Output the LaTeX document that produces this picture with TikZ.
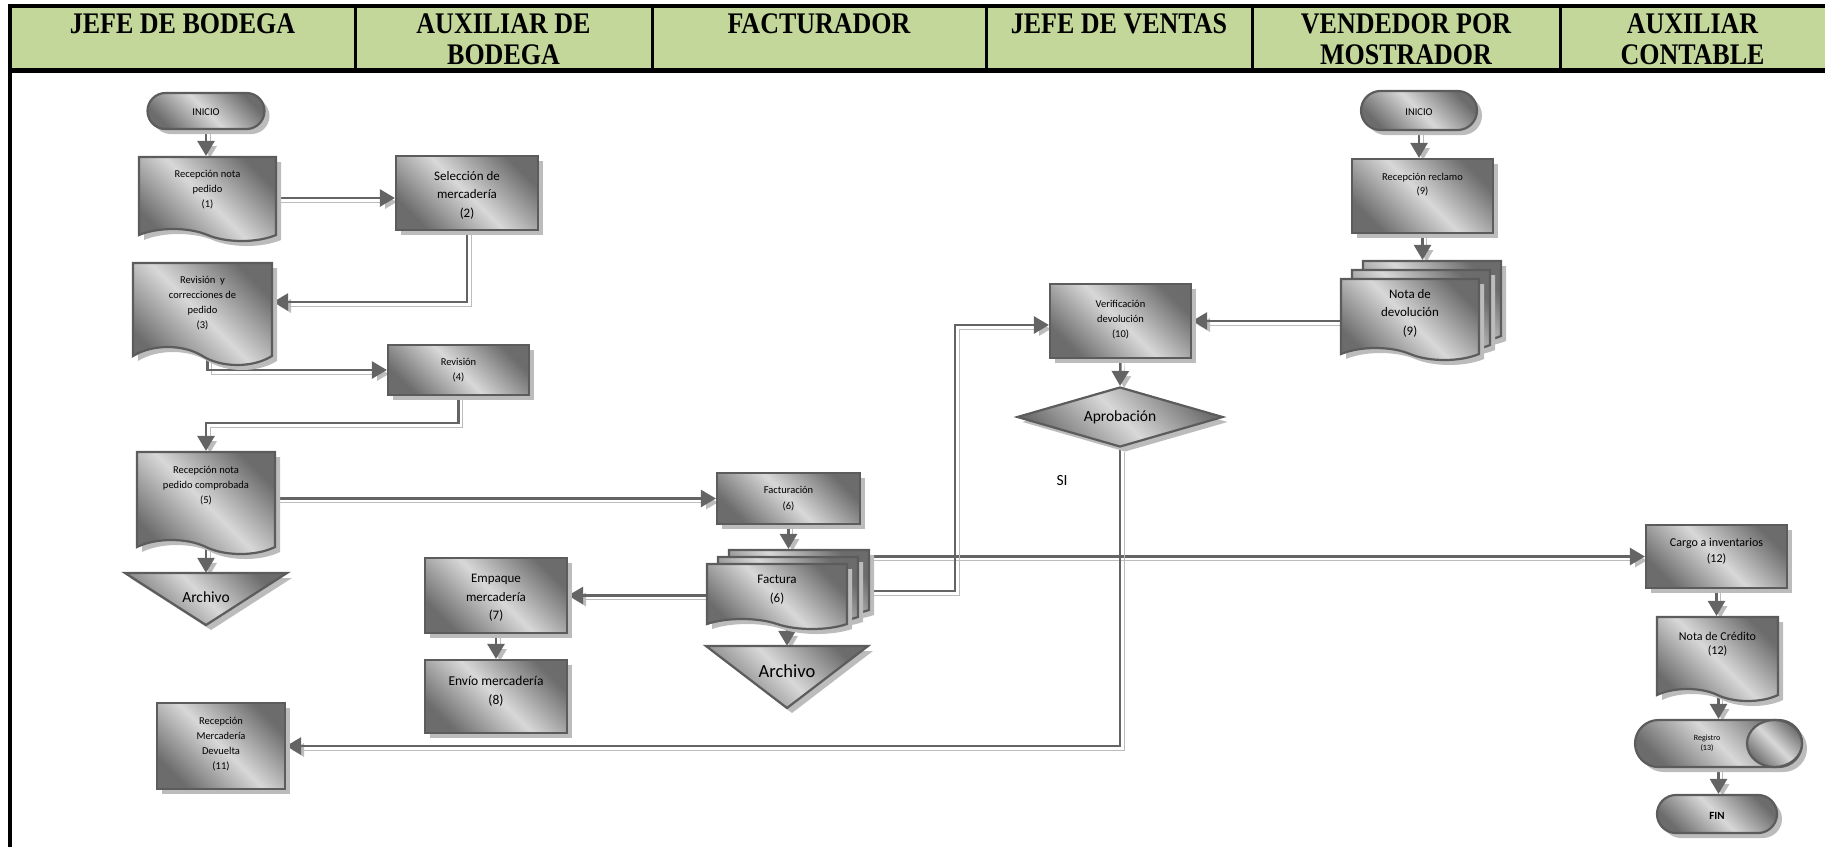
\documentclass[tikz,border=0pt]{standalone}
\usepackage{fontspec}
\usepackage{graphicx}
\setmainfont{Carlito}
\newfontfamily\hdrfont{Liberation Serif}
\usetikzlibrary{arrows.meta,shapes.geometric,shapes.misc,shapes.symbols,shadows}
\pgfdeclarelayer{wires}
\pgfsetlayers{wires,main}

\definecolor{hdrgreen}{RGB}{196,215,155}
\definecolor{edgegray}{RGB}{92,92,92}
\definecolor{linegray}{RGB}{100,100,100}
\definecolor{shadowgray}{RGB}{188,188,188}
\definecolor{shdark}{RGB}{108,108,108}
\definecolor{shlight}{RGB}{216,216,216}

\newcommand{\hdrtext}[1]{\scalebox{1}[1.15]{\begin{tabular}{@{}c@{}}#1\end{tabular}}}

\tikzset{
  flowfill/.style={draw=edgegray, line width=2.2pt, top color=shdark, bottom color=shdark,
                   middle color=shlight, shading angle=-45},
  withshadow/.style={general shadow={fill=shadowgray, shadow xshift=5pt, shadow yshift=-5pt}},
  procbox/.style={rectangle, withshadow, flowfill, inner sep=0pt},
  termbox/.style={rounded rectangle, withshadow, flowfill, inner sep=0pt},
  docbox/.style={tape, tape bend top=none, tape bend bottom=out and in, withshadow, flowfill, inner sep=0pt},
  decbox/.style={diamond, withshadow, flowfill, inner sep=0pt},
  mergebox/.style={withshadow, flowfill, line join=miter},
  txt/.style={inner sep=0pt, align=center, text=black},
  tsmall/.style={font=\fontsize{10.5}{15}\selectfont},
  tmid/.style={font=\fontsize{13}{18.5}\selectfont},
  tcargo/.style={font=\fontsize{12}{15.5}\selectfont},
  treg/.style={font=\fontsize{8}{10}\selectfont},
  tbig/.style={font=\fontsize{15.5}{18}\selectfont},
  hdr/.style={inner sep=0pt, anchor=north, font=\hdrfont\bfseries\fontsize{26}{27}\selectfont},
  conn/.style={draw=linegray, line width=2.6pt, -{Triangle[length=15pt,width=17pt]},
               preaction={draw=shadowgray, transform canvas={shift={(4pt,-4pt)}}}},
}

\begin{document}
\begin{tikzpicture}[x=1pt, y=-1pt]
\useasboundingbox (0,0) rectangle (1825,847);

% ---------- lane header ----------
\fill[hdrgreen] (10,6) rectangle (1825,70.5);
\draw[line width=4.5pt] (7.75,6) -- (1825,6);
\draw[line width=4.5pt] (7.75,70.5) -- (1825,70.5);
\draw[line width=4.5pt] (10,3.75) -- (10,847);
\foreach \xd in {355,652,986,1252,1560} \draw[line width=3pt] (\xd,6) -- (\xd,70.5);

\node[hdr] (hjb) at (182.5,12) {\hdrtext{JEFE DE BODEGA}};
\node[hdr] (hab) at (503.5,12) {\hdrtext{AUXILIAR DE\\BODEGA}};
\node[hdr] (hfa) at (819,12)   {\hdrtext{FACTURADOR}};
\node[hdr] (hjv) at (1119,12)  {\hdrtext{JEFE DE VENTAS}};
\node[hdr] (hvm) at (1406,12)  {\hdrtext{VENDEDOR POR\\MOSTRADOR}};
\node[hdr] (hac) at (1692.5,12){\hdrtext{AUXILIAR\\CONTABLE}};

% ---------- JEFE DE BODEGA / AUXILIAR DE BODEGA ----------
\node[termbox, minimum width=117pt, minimum height=36pt] (ini1) at (206,111) {};
\node[txt, tsmall] (ini1t) at (206,112) {INICIO};

\node[docbox, minimum width=137pt, minimum height=84pt, tape bend height=12pt] (n1) at (207.5,193) {};
\node[txt, tsmall] (n1t) at (207.5,190) {Recepción nota\\pedido\\(1)};

\node[procbox, minimum width=142pt, minimum height=74pt] (n2) at (467,193) {};
\node[txt, tmid] (n2t) at (467,195) {Selección de\\mercadería\\(2)};

\node[docbox, minimum width=139pt, minimum height=102pt, tape bend height=18pt] (n3) at (202.5,305) {};
\node[txt, tsmall] (n3t) at (202.5,303.5) {Revisión\ \ y\\correcciones de\\pedido\\(3)};

\node[procbox, minimum width=141pt, minimum height=50pt] (n4) at (458.5,370) {};
\node[txt, tsmall] (n4t) at (458.5,370.5) {Revisión\\(4)};

\node[docbox, minimum width=138pt, minimum height=102pt, tape bend height=14pt] (n5) at (206,496) {};
\node[txt, tsmall] (n5t) at (206,486) {Recepción nota\\pedido comprobada\\(5)};

\path[mergebox] (125,573) -- (287,573) -- (206,625) -- cycle;
\node[txt, font=\fontsize{15.5}{18}\selectfont, minimum height=48pt] (arch1) at (206,597) {Archivo};

\node[procbox, minimum width=142pt, minimum height=75pt] (n7) at (496,595.5) {};
\node[txt, tmid] (n7t) at (496,598) {Empaque\\mercadería\\(7)};

\node[procbox, minimum width=142pt, minimum height=73pt] (n8) at (496,696.5) {};
\node[txt, font=\fontsize{13.5}{19}\selectfont] (n8t) at (496,691.5) {Envío mercadería\\(8)};

\node[procbox, minimum width=128pt, minimum height=86pt] (n11) at (221,746) {};
\node[txt, tsmall] (n11t) at (221,744) {Recepción\\Mercadería\\Devuelta\\(11)};

% ---------- FACTURADOR ----------
\node[procbox, minimum width=143pt, minimum height=51pt] (n6) at (788.5,498.5) {};
\node[txt, font=\fontsize{10.5}{16}\selectfont] (n6t) at (788.5,499) {Facturación\\(6)};

\node[docbox, minimum width=140pt, minimum height=65pt, tape bend height=10pt] (factc) at (799,577.5) {};
\node[docbox, minimum width=140pt, minimum height=65pt, tape bend height=10pt] (factb) at (788,584.5) {};
\node[docbox, minimum width=140pt, minimum height=65pt, tape bend height=10pt] (fact) at (777,591.5) {};
\node[txt, font=\fontsize{13}{19}\selectfont] (factt) at (777,589.5) {Factura\\(6)};

\path[mergebox] (706,646) -- (868,646) -- (787,708) -- cycle;
\node[txt, font=\fontsize{18.5}{21}\selectfont, minimum height=50pt] (arch2) at (787,671) {Archivo};

% ---------- JEFE DE VENTAS ----------
\node[procbox, minimum width=141pt, minimum height=74pt] (n10) at (1120.5,321) {};
\node[txt, tsmall] (n10t) at (1120.5,320) {Verificación\\devolución\\(10)};

\node[decbox, minimum width=206pt, minimum height=60pt] (apr) at (1120,417) {};
\node[txt, tbig] (aprt) at (1120,417) {Aprobación};

\node[txt, tbig] (si) at (1062,481) {SI};

% ---------- VENDEDOR POR MOSTRADOR ----------
\node[termbox, minimum width=116pt, minimum height=39pt] (ini2) at (1419,110.5) {};
\node[txt, tsmall] (ini2t) at (1419,112) {INICIO};

\node[procbox, minimum width=141pt, minimum height=74pt] (n9) at (1422.5,196) {};
\node[txt, font=\fontsize{10.5}{14}\selectfont] (n9t) at (1422.5,185) {Recepción reclamo\\(9)};

\node[docbox, minimum width=138pt, minimum height=81pt, tape bend height=12pt] (notadevc) at (1432,295.5) {};
\node[docbox, minimum width=138pt, minimum height=81pt, tape bend height=12pt] (notadevb) at (1421,304.5) {};
\node[docbox, minimum width=138pt, minimum height=81pt, tape bend height=12pt] (notadev) at (1410,313.5) {};
\node[txt, tmid] (notadevt) at (1410,313) {Nota de\\devolución\\(9)};

% ---------- AUXILIAR CONTABLE ----------
\node[procbox, minimum width=141pt, minimum height=63pt] (n12) at (1716.5,556.5) {};
\node[txt, tcargo] (n12t) at (1716.5,551) {Cargo a inventarios\\(12)};

\node[docbox, minimum width=121pt, minimum height=84pt, tape bend height=12pt] (ncred) at (1717.5,653) {};
\node[txt, font=\fontsize{12}{14}\selectfont] (ncredt) at (1717.5,644) {Nota de Crédito\\(12)};

\node[termbox, minimum width=167pt, minimum height=47pt] (reg) at (1718.5,743.5) {};
\node[ellipse, flowfill, inner sep=0pt, minimum width=55pt, minimum height=47pt] (regend) at (1774.5,743.5) {};
\node[txt, treg] (regt) at (1707,743) {Registro\\(13)};

\node[termbox, minimum width=120pt, minimum height=38pt] (fin) at (1717,814) {};
\node[txt, font=\fontsize{11}{13}\selectfont\bfseries] (fint) at (1717,816) {FIN};

% ---------- connectors ----------
\begin{pgfonlayer}{wires}
\draw[conn] (ini1.south) -- (ini1.south |- n1.north);
\draw[conn] ([yshift=-5pt]n1.east) -- ([yshift=-5pt]n1.east -| n2.west);
\draw[conn] (n2.south) |- ([yshift=3pt]n3.east);
\draw[conn] ([xshift=5pt]n3.south) |- (n4.west);
\draw[conn] (n4.south) -- ++(0,27) -| (n5.north);
\draw[conn] (n6.west -| n5.east) -- (n6.west);
\draw[conn] (n5.south) -- (arch1.north);
\draw[conn] (n6.south) -- (n6.south |- factc.north);
\draw[conn] (fact.west |- n7.east) -- (n7.east);
\draw[conn] (arch2.north |- fact.south) -- (arch2.north);
\draw[conn] (n7.south) -- (n8.north);
\draw[conn] (n12.west -| factc.east) -- (n12.west);
\draw[conn] ([yshift=-13.5pt]factc.east) -- ++(85,0) |- ([yshift=-4pt]n10.west);
\draw[conn] (n10.east -| notadev.west) -- (n10.east);
\draw[conn] (ini2.south) -- (ini2.south |- n9.north);
\draw[conn] (n9.south) -- (n9.south |- notadevc.north);
\draw[conn] (n10.south) -- (apr.north);
\draw[conn] (apr.south) |- (n11.east);
\draw[conn] (n12.south) -- (n12.south |- ncred.north);
\draw[conn] (reg.north |- ncred.south) -- (reg.north);
\draw[conn] (reg.south) -- (reg.south |- fin.north);
\end{pgfonlayer}
\end{tikzpicture}
\end{document}
